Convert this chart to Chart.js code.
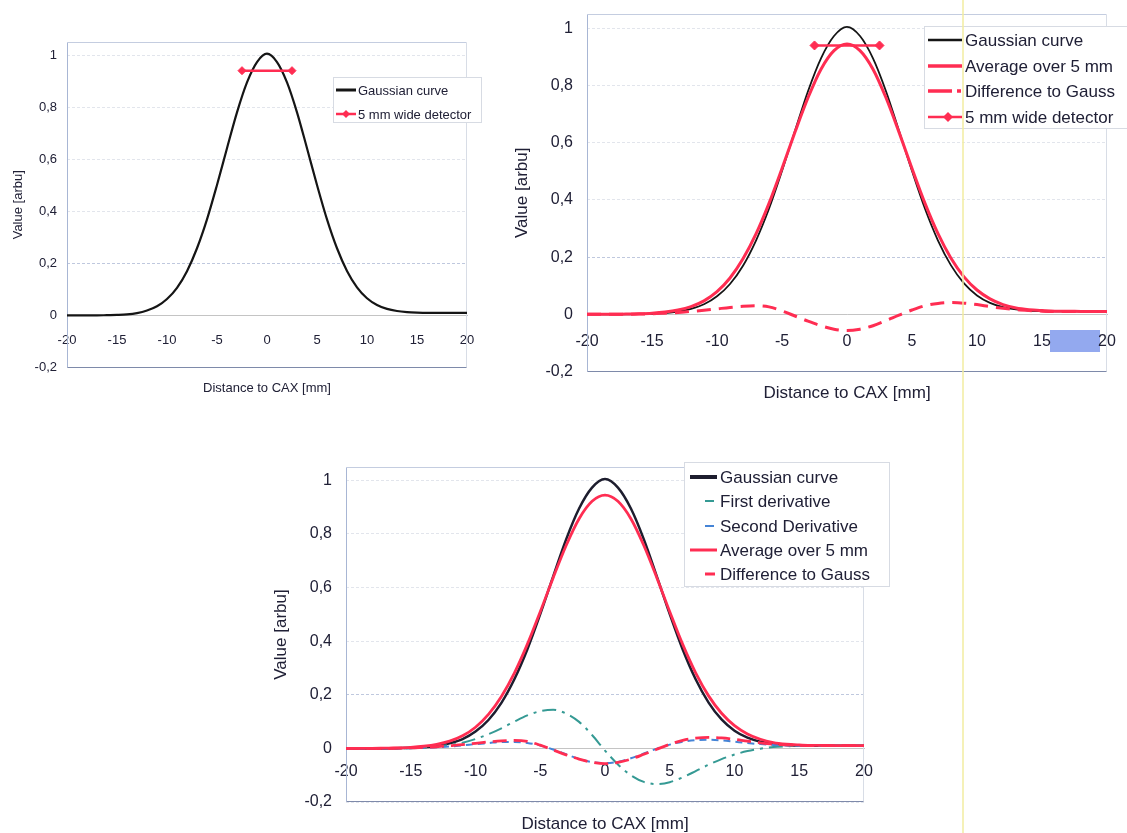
<!DOCTYPE html>
<html>
<head>
<meta charset="utf-8">
<title>Gaussian profile and 5 mm detector averaging</title>
<script src="https://cdn.jsdelivr.net/npm/chart.js@4.4.1/dist/chart.umd.min.js"></script>
<style>
  html, body { margin: 0; padding: 0; background: #ffffff; }
  body { position: relative; width: 1127px; height: 833px; overflow: hidden; }
  canvas { position: absolute; }
  #profile { left: 0; top: 0; }
  #averaged { left: 500px; top: 0; }
  #derivatives { left: 260px; top: 450px; }
  .fold { position: absolute; left: 962px; top: 0; width: 2px; height: 833px; background: rgba(242, 236, 160, 0.75); }
</style>
</head>
<body>
<canvas id="profile" width="500" height="410"></canvas>
<canvas id="averaged" width="627" height="410"></canvas>
<canvas id="derivatives" width="640" height="383"></canvas>
<div class="fold"></div>
<script>
// Sample positions across the field (mm from the central axis)
const distanceMm = [-20, -19, -18, -17, -16, -15, -14, -13, -12, -11,
                    -10, -9, -8, -7, -6, -5, -4, -3, -2, -1,
                    0, 1, 2, 3, 4, 5, 6, 7, 8, 9,
                    10, 11, 12, 13, 14, 15, 16, 17, 18, 19, 20];

const gaussianCurve = [0, 0, 0, 0, 0.001, 0.002, 0.004, 0.009, 0.019, 0.035,
                       0.063, 0.106, 0.170, 0.258, 0.369, 0.501, 0.642, 0.780, 0.895, 0.973,
                       1.005, 0.973, 0.895, 0.780, 0.642, 0.501, 0.369, 0.258, 0.171, 0.108,
                       0.066, 0.040, 0.025, 0.017, 0.013, 0.011, 0.010, 0.010, 0.010, 0.010, 0.010];

const average5mm = [0, 0, 0, 0.001, 0.002, 0.004, 0.008, 0.015, 0.027, 0.047,
                    0.079, 0.127, 0.194, 0.281, 0.388, 0.510, 0.637, 0.757, 0.857, 0.922,
                    0.945, 0.922, 0.857, 0.757, 0.637, 0.510, 0.388, 0.282, 0.196, 0.131,
                    0.085, 0.054, 0.034, 0.022, 0.016, 0.013, 0.011, 0.011, 0.010, 0.010, 0.010];

const differenceToGauss = [0, 0, 0, 0, 0.001, 0.002, 0.004, 0.006, 0.010, 0.014,
                           0.019, 0.024, 0.028, 0.030, 0.026, 0.012, -0.006, -0.024, -0.040, -0.052,
                           -0.057, -0.052, -0.040, -0.022, -0.003, 0.015, 0.030, 0.038, 0.041, 0.039,
                           0.034, 0.027, 0.021, 0.016, 0.013, 0.011, 0.010, 0.010, 0.010, 0.010, 0.010];

const firstDerivative = [0, 0, 0, 0, 0, 0.001, 0.003, 0.007, 0.013, 0.021,
                         0.035, 0.053, 0.075, 0.100, 0.123, 0.139, 0.144, 0.130, 0.099, 0.050,
                         -0.008, -0.060, -0.100, -0.125, -0.133, -0.126, -0.108, -0.085, -0.061, -0.040,
                         -0.023, -0.010, -0.001, 0.005, 0.008, 0.009, 0.010, 0.010, 0.010, 0.010, 0.010];

const secondDerivative = [0, 0, 0, 0, 0, 0.001, 0.002, 0.004, 0.007, 0.011,
                          0.016, 0.020, 0.024, 0.024, 0.020, 0.011, -0.004, -0.022, -0.039, -0.051,
                          -0.055, -0.050, -0.037, -0.019, -0.001, 0.014, 0.025, 0.031, 0.032, 0.030,
                          0.025, 0.020, 0.016, 0.013, 0.011, 0.010, 0.010, 0.010, 0.010, 0.010, 0.010];

// Detector footprint: 5 mm wide, drawn at its averaged reading
const detectorEdges = [-2.5, 2.5];
const detectorReading = [0.94, 0.94];

// Axis ticks
const xTicks = [-20, -15, -10, -5, 0, 5, 10, 15, 20];
const xTickLabels = ['-20', '-15', '-10', '-5', '0', '5', '10', '15', '20'];
const yTicks = [-0.2, 0, 0.2, 0.4, 0.6, 0.8, 1];
const yTickLabels = ['-0,2', '0', '0,2', '0,4', '0,6', '0,8', '1'];

const FONT = '"Liberation Sans", Arial, Helvetica, sans-serif';
const INK = '#202036';
const RED = '#ff2d52';
const BLACK = '#151515';
const TEAL = '#359a94';
const BLUE = '#4584d6';
const CLEAR = 'rgba(0,0,0,0)';

const series = (xs, ys) => xs.map((x, i) => ({ x: x, y: ys[i] }));

// Thin frame around the plotting area
const plotFrame = {
  id: 'plotFrame',
  beforeDatasetsDraw(chart) {
    const { ctx, chartArea: a } = chart;
    const L = Math.round(a.left) + 0.5, R = Math.round(a.right) - 0.5;
    const T = Math.round(a.top) + 0.5, B = Math.round(a.bottom) - 0.5;
    const seg = (x1, y1, x2, y2, c) => {
      ctx.strokeStyle = c; ctx.beginPath(); ctx.moveTo(x1, y1); ctx.lineTo(x2, y2); ctx.stroke();
    };
    ctx.save();
    ctx.lineWidth = 1;
    seg(L, T, R, T, '#c4cde0');
    seg(R, T, R, B, '#d8dde6');
    seg(L, T, L, B, '#a8b6d4');
    seg(L, B, R, B, '#7e8aaa');
    ctx.restore();
  }
};

// Boxed legend placed inside the plot, built from the datasets' labels and colours
const boxLegend = {
  id: 'boxLegend',
  afterDatasetsDraw(chart, args, o) {
    const { ctx } = chart;
    const sets = chart.data.datasets;
    ctx.save();
    ctx.fillStyle = '#ffffff';
    ctx.fillRect(o.x, o.y, o.w, o.h);
    ctx.strokeStyle = '#d7dbe3';
    ctx.lineWidth = 1;
    ctx.strokeRect(o.x + 0.5, o.y + 0.5, o.w - 1, o.h - 1);
    ctx.font = o.size + 'px ' + FONT;
    ctx.textBaseline = 'middle';
    ctx.textAlign = 'left';
    o.items.forEach((it, i) => {
      const ds = sets[it.ds];
      const y = Math.round(o.y + o.first + i * o.step);
      ctx.strokeStyle = ds.borderColor;
      ctx.lineWidth = it.width;
      ctx.setLineDash([]);
      ctx.beginPath();
      it.segs.forEach(s => { ctx.moveTo(o.x + s[0], y); ctx.lineTo(o.x + s[1], y); });
      ctx.stroke();
      if (it.marker) {
        const cx = o.x + it.marker, r = it.markerSize;
        ctx.fillStyle = ds.borderColor;
        ctx.beginPath();
        ctx.moveTo(cx, y - r); ctx.lineTo(cx + r, y); ctx.lineTo(cx, y + r); ctx.lineTo(cx - r, y);
        ctx.closePath(); ctx.fill();
      }
      ctx.fillStyle = INK;
      ctx.fillText(ds.label, o.x + o.textX, y + 1);
    });
    ctx.restore();
  }
};

// Highlighted cell below the axis (selection box in the source sheet)
const selectionMark = {
  id: 'selectionMark',
  beforeDraw(chart, args, o) {
    if (!o || !o.w) return;
    const { ctx } = chart;
    ctx.save();
    ctx.fillStyle = o.color;
    ctx.fillRect(o.x, o.y, o.w, o.h);
    ctx.restore();
  }
};

function buildChart(id, spec) {
  const tickFont = { family: FONT, size: spec.tickSize };
  const titleFont = { family: FONT, size: spec.titleSize, weight: 'normal', lineHeight: 1 };
  return new Chart(document.getElementById(id), {
    type: 'line',
    data: { datasets: spec.datasets },
    options: {
      responsive: false,
      animation: false,
      devicePixelRatio: 1,
      events: [],
      layout: { padding: spec.pad },
      elements: { line: { cubicInterpolationMode: 'monotone' } },
      plugins: {
        legend: { display: false },
        tooltip: { enabled: false },
        title: {
          display: true, position: 'bottom', fullSize: false,
          text: 'Distance to CAX [mm]', color: INK, font: titleFont,
          padding: spec.titlePad
        },
        boxLegend: spec.legend,
        selectionMark: spec.mark || {}
      },
      scales: {
        x: {
          type: 'linear', min: -20, max: 20,
          position: { y: 0 },
          afterBuildTicks: s => { s.ticks = xTicks.map(v => ({ value: v })); },
          ticks: {
            autoSkip: false, maxRotation: 0, minRotation: 0,
            font: tickFont, color: INK, padding: 0,
            callback: (v, i) => xTickLabels[i]
          },
          // tick marks are invisible; their length sets the label gap below the zero line
          grid: { display: false, drawTicks: true, tickLength: spec.xTickPad, tickColor: CLEAR },
          border: { display: true, color: '#c4c4c4', width: 1 }
        },
        y: {
          type: 'linear', min: -0.2, max: 1.05,
          afterBuildTicks: s => { s.ticks = yTicks.map(v => ({ value: v })); },
          afterFit: s => { s.width = spec.axisWidth; },
          ticks: {
            font: tickFont, color: INK, padding: 0,
            callback: (v, i) => yTickLabels[i]
          },
          grid: {
            drawTicks: true, tickLength: spec.yTickPad, tickColor: CLEAR, lineWidth: 1,
            color: c => (c.tick && c.tick.value === 0.2) ? '#bfc8de' : '#e2e5ec'
          },
          border: { display: false, dash: [3, 2] },
          title: {
            display: true, text: 'Value [arbu]', color: INK, font: titleFont,
            padding: { top: spec.yTitlePad, bottom: 0 }
          }
        }
      }
    },
    plugins: [plotFrame, boxLegend, selectionMark]
  });
}

const curve = (label, ys, color, width, order, dash) => ({
  label: label,
  data: series(distanceMm, ys),
  borderColor: color,
  backgroundColor: color,
  borderWidth: width,
  borderDash: dash || [],
  pointRadius: 0,
  order: order
});

const detector = (order, radius) => ({
  label: '5 mm wide detector',
  data: series(detectorEdges, detectorReading),
  borderColor: RED,
  backgroundColor: RED,
  borderWidth: 2.5,
  pointStyle: 'rectRot',
  pointRadius: radius,
  pointBorderWidth: 1,
  order: order
});

// Gaussian profile with the detector width
buildChart('profile', {
  pad: { left: 0, top: 42, right: 33, bottom: 0 },
  axisWidth: 67,
  tickSize: 13, titleSize: 13,
  titlePad: { top: 14, bottom: 15.5 },
  xTickPad: 17, yTickPad: 10, yTitlePad: 11.5,
  datasets: [
    curve('Gaussian curve', gaussianCurve, BLACK, 2.2, 2),
    detector(1, 4)
  ],
  legend: {
    x: 333, y: 77, w: 149, h: 46, first: 13, step: 24, textX: 25, size: 13,
    items: [
      { ds: 0, segs: [[3, 23]], width: 3 },
      { ds: 1, segs: [[3, 23]], width: 2.5, marker: 13, markerSize: 4 }
    ]
  }
});

// Profile averaged over the detector width
buildChart('averaged', {
  pad: { left: 0, top: 14, right: 20, bottom: 0 },
  axisWidth: 87,
  tickSize: 16, titleSize: 17,
  titlePad: { top: 13, bottom: 8.5 },
  xTickPad: 18, yTickPad: 14, yTitlePad: 13.5,
  datasets: [
    curve('Gaussian curve', gaussianCurve, BLACK, 1.8, 4),
    curve('Average over 5 mm', average5mm, RED, 3, 3),
    curve('Difference to Gauss', differenceToGauss, RED, 3, 2, [14, 8]),
    detector(1, 4.5)
  ],
  legend: {
    x: 424, y: 26, w: 215, h: 103, first: 14, step: 25.5, textX: 41, size: 17,
    items: [
      { ds: 0, segs: [[4, 38]], width: 2.5 },
      { ds: 1, segs: [[4, 38]], width: 3.5 },
      { ds: 2, segs: [[4, 28], [33, 37]], width: 3.5 },
      { ds: 3, segs: [[4, 38]], width: 2.5, marker: 24, markerSize: 5 }
    ]
  },
  mark: { x: 550, y: 330, w: 50, h: 22, color: '#93a9ef' }
});

// Averaging compared with the first and second derivatives
buildChart('derivatives', {
  pad: { left: 0, top: 17, right: 36, bottom: 0 },
  axisWidth: 86,
  tickSize: 16, titleSize: 17,
  titlePad: { top: 14, bottom: 0 },
  xTickPad: 14, yTickPad: 14, yTitlePad: 12.5,
  datasets: [
    curve('Gaussian curve', gaussianCurve, '#1d1d2e', 2.5, 5),
    curve('First derivative', firstDerivative, TEAL, 2, 4, [14, 6, 3, 6]),
    curve('Second Derivative', secondDerivative, BLUE, 2, 3, [7, 5]),
    curve('Average over 5 mm', average5mm, RED, 2.8, 2),
    curve('Difference to Gauss', differenceToGauss, RED, 2.8, 1, [14, 7])
  ],
  legend: {
    x: 424, y: 12, w: 206, h: 125, first: 15, step: 24.3, textX: 36, size: 17,
    items: [
      { ds: 0, segs: [[6, 33]], width: 4 },
      { ds: 1, segs: [[21, 30]], width: 2 },
      { ds: 2, segs: [[21, 30]], width: 2 },
      { ds: 3, segs: [[6, 33]], width: 3 },
      { ds: 4, segs: [[21, 31]], width: 3 }
    ]
  }
});
</script>
</body>
</html>
